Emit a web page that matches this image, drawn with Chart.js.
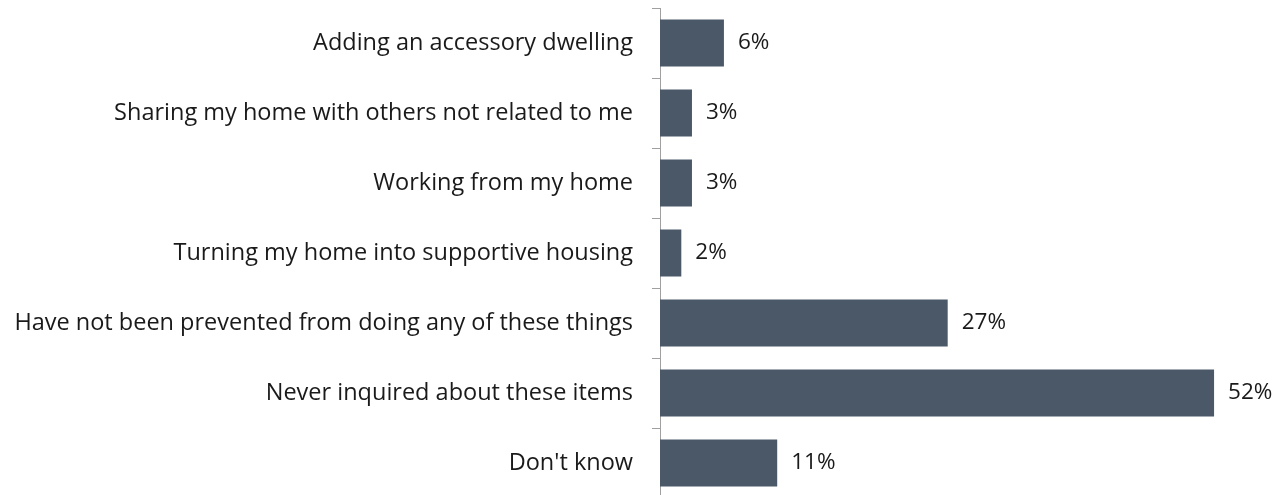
<!DOCTYPE html>
<html><head><meta charset="utf-8">
<script src="https://cdn.jsdelivr.net/npm/chart.js@4/dist/chart.umd.min.js"></script>
<style>html,body{margin:0;padding:0;background:#fff;overflow:hidden}</style>
</head><body><canvas id="c" width="1288" height="500"></canvas>
<script>
const categories = [
  "Adding an accessory dwelling",
  "Sharing my home with others not related to me",
  "Working from my home",
  "Turning my home into supportive housing",
  "Have not been prevented from doing any of these things",
  "Never inquired about these items",
  "Don't know"
];
const values = [6, 3, 3, 2, 27, 52, 11];
const valueLabels = ["6%", "3%", "3%", "2%", "27%", "52%", "11%"];

const FONT = "'Open Sans', sans-serif";
const labelPlugin = {
  id: 'valLabels',
  afterDatasetsDraw(chart) {
    const ctx = chart.ctx;
    const meta = chart.getDatasetMeta(0);
    ctx.save();
    ctx.font = "22.5px " + FONT;
    ctx.fillStyle = "#1a1a1a";
    ctx.textBaseline = "middle";
    ctx.textAlign = "left";
    meta.data.forEach((bar, i) => {
      ctx.fillText(valueLabels[i], bar.x + 14, bar.y);
    });
    ctx.restore();
  }
};

new Chart(document.getElementById('c'), {
  type: 'bar',
  data: {
    labels: categories,
    datasets: [{
      data: values,
      backgroundColor: '#4a5868',
      borderWidth: 0,
      categoryPercentage: 1,
      barPercentage: 0.67
    }]
  },
  options: {
    indexAxis: 'y',
    responsive: false,
    animation: false,
    layout: { padding: { top: 8, bottom: 2, right: 10, left: 0 } },
    plugins: { legend: { display: false }, tooltip: { enabled: false } },
    scales: {
      x: { display: false, min: 0, max: 58 },
      y: {
        offset: true,
        afterFit(scale) { scale.width = 660; scale.paddingTop = 0; scale.paddingBottom = 0; },
        border: { display: true, color: '#a0a0a0', width: 1 },
        grid: { display: true, offset: true, drawOnChartArea: false, tickLength: 8, color: '#a0a0a0' },
        ticks: { color: '#1a1a1a', padding: 19, font: { family: FONT, size: 23.5 } }
      }
    }
  },
  plugins: [labelPlugin]
});
</script></body></html>
